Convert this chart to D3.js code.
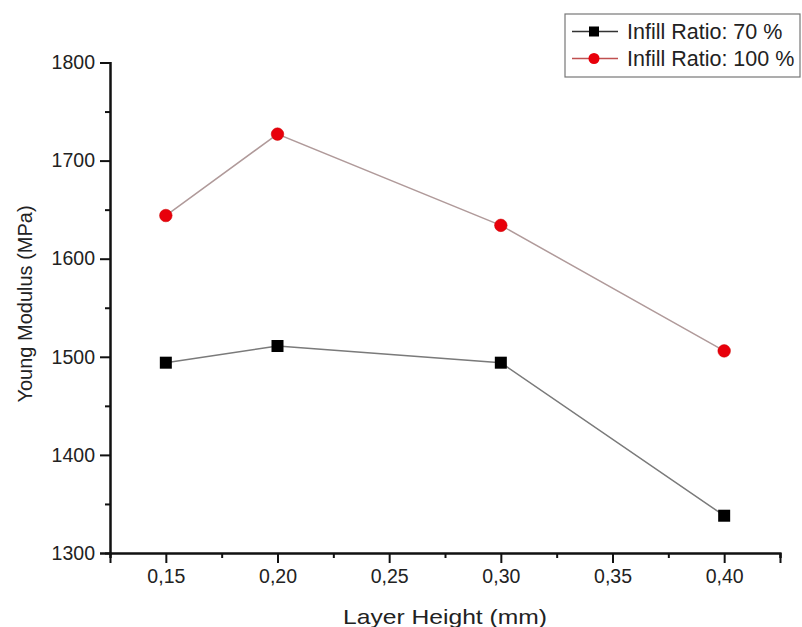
<!DOCTYPE html>
<html><head><meta charset="utf-8">
<script src="https://cdn.jsdelivr.net/npm/d3@7"></script>
<style>body{margin:0;background:#fff}svg{display:block}text{font-family:"Liberation Sans",Arial,sans-serif;fill:#222}</style>
</head><body><svg id="c" width="802" height="627"></svg>
<script>
const layerHeights = [0.15, 0.20, 0.30, 0.40];
const infill70 = [1494, 1511, 1494, 1338];
const infill100 = [1644, 1727, 1634, 1506];
const xTicks = [0.15, 0.20, 0.25, 0.30, 0.35, 0.40];
const yTicks = [1300, 1400, 1500, 1600, 1700, 1800];
const seriesNames = ["Infill Ratio: 70 %", "Infill Ratio: 100 %"];

const svg = d3.select("#c");
const x = d3.scaleLinear().domain([0.125, 0.425]).range([110, 780]);
const y = d3.scaleLinear().domain([1300, 1800]).range([553, 62.5]);
const fmt = d => d3.format(".2f")(d).replace(".", ",");

// minor ticks
const gx = svg.append("g").attr("transform", "translate(0,553)");
gx.call(d3.axisBottom(x).tickValues(d3.range(0.125, 0.4251, 0.05)).tickSize(5).tickFormat(""));
const gx2 = svg.append("g").attr("transform", "translate(0,553)");
gx2.call(d3.axisBottom(x).tickValues(xTicks).tickSize(10).tickPadding(6).tickFormat(fmt));
const gy = svg.append("g").attr("transform", "translate(110,0)");
gy.call(d3.axisLeft(y).tickValues(d3.range(1350, 1800, 100)).tickSize(5).tickFormat(""));
const gy2 = svg.append("g").attr("transform", "translate(110,0)");
gy2.call(d3.axisLeft(y).tickValues(yTicks).tickSize(10).tickPadding(5).tickFormat(d3.format("d")));
svg.selectAll(".domain").attr("stroke", "#111").attr("stroke-width", 2);
svg.selectAll(".tick line").attr("stroke", "#111").attr("stroke-width", 2);
svg.selectAll(".tick text").attr("font-size", 19.5).style("fill", "#222");

svg.append("text").attr("x", 445).attr("y", 624).attr("text-anchor", "middle").attr("font-size", 21)
  .attr("textLength", 204).attr("lengthAdjust", "spacingAndGlyphs").text("Layer Height (mm)");
svg.append("text").attr("transform", "translate(32,304) rotate(-90)").attr("text-anchor", "middle").attr("font-size", 20).text("Young Modulus (MPa)");

const line = d3.line().x((d, i) => x(layerHeights[i])).y(d => y(d));
svg.append("path").datum(infill70).attr("d", line).attr("fill", "none").attr("stroke", "#7a7a7a").attr("stroke-width", 1.5);
svg.append("path").datum(infill100).attr("d", line).attr("fill", "none").attr("stroke", "#b09a9a").attr("stroke-width", 1.5);

svg.selectAll(".sq").data(infill70).enter().append("rect")
  .attr("x", (d, i) => x(layerHeights[i]) - 6).attr("y", d => y(d) - 6)
  .attr("width", 12).attr("height", 12).attr("fill", "#000");
svg.selectAll(".ci").data(infill100).enter().append("circle")
  .attr("cx", (d, i) => x(layerHeights[i])).attr("cy", d => y(d)).attr("r", 6.3)
  .attr("fill", "#e8000b").attr("stroke", "#c00").attr("stroke-width", 0.5);

// legend
const lg = svg.append("g");
lg.append("rect").attr("x", 565).attr("y", 14).attr("width", 235).attr("height", 63)
  .attr("fill", "#fff").attr("stroke", "#777").attr("stroke-width", 1.2);
const rows = [{n: seriesNames[0], y: 31.5}, {n: seriesNames[1], y: 58.5}];
rows.forEach((r, i) => {
  lg.append("line").attr("x1", 572).attr("x2", 618).attr("y1", r.y).attr("y2", r.y).attr("stroke", i ? "#c05050" : "#333").attr("stroke-width", 1.5);
  if (i === 0) lg.append("rect").attr("x", 589).attr("y", r.y - 5).attr("width", 10).attr("height", 10).attr("fill", "#000");
  else lg.append("circle").attr("cx", 594).attr("cy", r.y).attr("r", 5.5).attr("fill", "#e8000b");
  lg.append("text").attr("x", 627).attr("y", r.y + 7).attr("font-size", 21.5).text(r.n);
});
</script></body></html>
